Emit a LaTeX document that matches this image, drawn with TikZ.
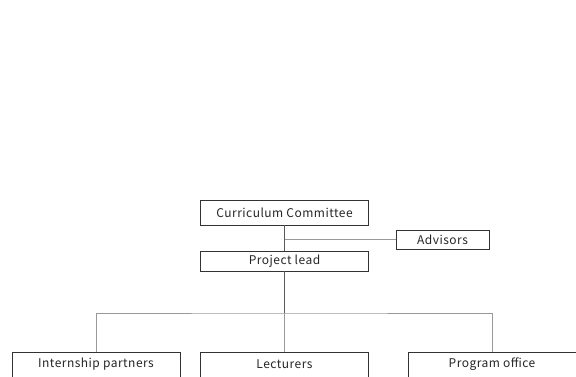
\documentclass[tikz,border=0pt]{standalone}
\usepackage{fontspec}
\setmainfont{Noto Sans CJK JP}[LetterSpace=4]
\begin{document}
\begin{tikzpicture}[x=1pt,y=1pt,
  box/.style={draw=black!80,line width=0.8pt,fill=white,minimum width=168pt,minimum height=25pt,inner sep=0pt,font=\fontsize{12}{13}\selectfont,text=black!85},
  smallbox/.style={box,minimum width=93pt,minimum height=19pt},
  trunk/.style={draw=black!65,line width=0.9pt},
  branch/.style={draw=black!40,line width=0.9pt}]
\useasboundingbox (0,0) rectangle (576,376);
\clip (0,0) rectangle (576,376);
\node[box] (cc) at (284.5,163.5) {Curriculum Committee};
\node[smallbox] (adv) at (442.5,136.5) {Advisors};
\node[box,minimum height=20pt] (pl) at (284.5,115) {Project lead};
\node[box] (ip) at (96,11.5) {\raisebox{-1pt}{Internship partners}};
\node[box] (lec) at (284.5,11.5) {\raisebox{-1pt}{Lecturers}};
\node[box] (po) at (492,11.5) {\raisebox{-1pt}{Program office}};
\coordinate (bus) at (284.5,63);
\draw[trunk] (cc.south) -- (pl.north);
\draw[branch] (cc.south |- adv.west) -- (adv.west);
\draw[trunk] (pl.south) -- (bus);
\draw[branch] (ip.north) |- (bus) -| (po.north);
\draw[branch] (bus) -- (lec.north);
\end{tikzpicture}
\end{document}
